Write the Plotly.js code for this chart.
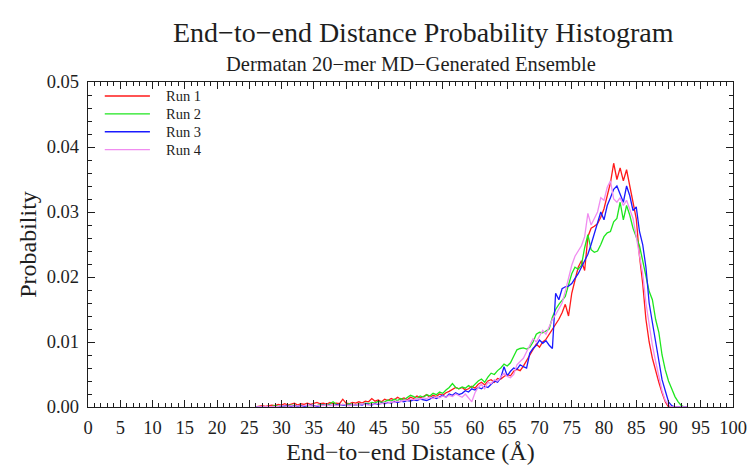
<!DOCTYPE html>
<html>
<head>
<meta charset="utf-8">
<script src="https://cdn.plot.ly/plotly-3.0.1.min.js"></script>
<style>html,body{margin:0;padding:0;background:#fff;}#chart{width:748px;height:465px;}</style>
</head>
<body>
<div id="chart"></div>
<script>
// Bin centres (Å)
const distance = [26,26.5,27,27.5,28,28.5,29,29.5,30,30.5,31,31.5,32,32.5,33,33.5,34,34.5,35,35.5,36,36.5,37,37.5,38,38.5,39,39.5,40,40.5,41,41.5,42,42.5,43,43.5,44,44.5,45,45.5,46,46.5,47,47.5,48,48.5,49,49.5,50,50.5,51,51.5,52,52.5,53,53.5,54,54.5,55,55.5,56,56.5,57,57.5,58,58.5,59,59.5,60,60.5,61,61.5,62,62.5,63,63.5,64,64.5,65,65.5,66,66.5,67,67.5,68,68.5,69,69.5,70,70.5,71,71.5,72,72.5,73,73.5,74,74.5,75,75.5,76,76.5,77,77.5,78,78.5,79,79.5,80,80.5,81,81.5,82,82.5,83,83.5,84,84.5,85,85.5,86,86.5,87,87.5,88,88.5,89,89.5,90,90.5,91,91.5,92,92.5,93];

const run1 = [0,0.0001,0.0002,0.0001,0.0002,0.0003,0.0002,0.0004,0.0003,0.0005,0.0003,0.0004,0.0006,0.0003,0.0005,0.0004,0.0006,0.0004,0.0005,0.0007,0.0005,0.0006,0.0004,0.0007,0.0005,0.0006,0.0005,0.0012,0.0006,0.0005,0.0007,0.0006,0.0008,0.0006,0.0009,0.0008,0.0013,0.0009,0.0011,0.0008,0.0012,0.0010,0.0013,0.0011,0.0015,0.0012,0.0014,0.0011,0.0015,0.0013,0.0017,0.0014,0.0016,0.0019,0.0015,0.0018,0.0016,0.0020,0.0018,0.0022,0.0024,0.0027,0.0030,0.0028,0.0030,0.0026,0.0028,0.0032,0.0029,0.0035,0.0038,0.0034,0.0040,0.0042,0.0038,0.0044,0.0043,0.0047,0.0050,0.0048,0.0055,0.0058,0.0056,0.0063,0.0072,0.0080,0.0088,0.0097,0.0092,0.0100,0.0104,0.0112,0.0118,0.0128,0.0135,0.0145,0.0158,0.0140,0.0175,0.0195,0.0215,0.0225,0.0210,0.0262,0.0275,0.0278,0.0282,0.0292,0.0305,0.0325,0.0345,0.0375,0.0350,0.0368,0.0348,0.0365,0.0340,0.0315,0.0290,0.0232,0.0190,0.0135,0.0100,0.0075,0.0055,0.0038,0.0022,0.0008,0,0,0,0,0,0,0];

const run2 = [0,0,0.0001,0,0.0001,0.0001,0.0002,0.0001,0.0002,0.0001,0.0002,0.0003,0.0002,0.0002,0.0003,0.0002,0.0003,0.0002,0.0003,0.0002,0.0004,0.0003,0.0002,0.0005,0.0008,0.0004,0.0003,0.0004,0.0003,0.0005,0.0004,0.0003,0.0005,0.0004,0.0006,0.0005,0.0007,0.0006,0.0009,0.0007,0.0008,0.0011,0.0009,0.0012,0.0010,0.0013,0.0011,0.0014,0.0018,0.0016,0.0013,0.0017,0.0015,0.0019,0.0017,0.0021,0.0019,0.0023,0.0021,0.0026,0.0030,0.0036,0.0030,0.0028,0.0031,0.0029,0.0033,0.0030,0.0035,0.0040,0.0043,0.0038,0.0046,0.0052,0.0050,0.0056,0.0060,0.0066,0.0063,0.0068,0.0078,0.0088,0.0090,0.0091,0.0089,0.0092,0.0100,0.0112,0.0115,0.0114,0.0117,0.0120,0.0138,0.0150,0.0158,0.0165,0.0170,0.0188,0.0205,0.0215,0.0212,0.0218,0.0245,0.0265,0.0242,0.0238,0.0240,0.0250,0.0262,0.0268,0.0270,0.0285,0.0290,0.0315,0.0288,0.0310,0.0295,0.0275,0.0262,0.0248,0.0225,0.0200,0.0178,0.0165,0.0135,0.0115,0.0080,0.0057,0.0040,0.0028,0.0016,0.0008,0.0002,0,0];

const run3 = [0,0,0,0.0001,0,0.0001,0.0001,0,0.0001,0.0002,0.0001,0.0001,0.0002,0.0001,0.0002,0.0001,0.0002,0.0003,0.0002,0.0001,0.0002,0.0003,0.0002,0.0003,0.0002,0.0003,0.0004,0.0003,0.0002,0.0003,0.0004,0.0003,0.0004,0.0003,0.0005,0.0004,0.0003,0.0005,0.0004,0.0006,0.0005,0.0007,0.0006,0.0008,0.0007,0.0009,0.0008,0.0010,0.0009,0.0011,0.0010,0.0012,0.0011,0.0010,0.0012,0.0015,0.0013,0.0016,0.0018,0.0015,0.0020,0.0018,0.0022,0.0019,0.0021,0.0025,0.0023,0.0028,0.0026,0.0030,0.0028,0.0032,0.0030,0.0035,0.0040,0.0038,0.0045,0.0062,0.0048,0.0055,0.0060,0.0058,0.0065,0.0062,0.0060,0.0083,0.0090,0.0095,0.0103,0.0098,0.0102,0.0095,0.0090,0.0175,0.0165,0.0182,0.0185,0.0186,0.0190,0.0198,0.0205,0.0215,0.0225,0.0235,0.0250,0.0268,0.0282,0.0300,0.0288,0.0310,0.0322,0.0335,0.0340,0.0328,0.0315,0.0340,0.0325,0.0302,0.0308,0.0270,0.0250,0.0215,0.0160,0.0130,0.0100,0.0070,0.0042,0.0025,0.0008,0.0002,0,0,0,0,0];

const run4 = [0,0,0.0001,0,0.0001,0,0.0001,0.0001,0.0002,0.0001,0.0001,0.0002,0.0001,0.0002,0.0001,0.0002,0.0003,0.0002,0.0001,0.0002,0.0003,0.0002,0.0003,0.0002,0.0003,0.0002,0.0003,0.0004,0.0003,0.0002,0.0004,0.0003,0.0004,0.0005,0.0004,0.0003,0.0005,0.0004,0.0006,0.0005,0.0007,0.0006,0.0008,0.0007,0.0009,0.0008,0.0011,0.0010,0.0012,0.0011,0.0013,0.0012,0.0014,0.0013,0.0015,0.0013,0.0016,0.0014,0.0017,0.0015,0.0018,0.0016,0.0020,0.0018,0.0015,0.0020,0.0014,0.0008,0.0022,0.0030,0.0035,0.0028,0.0038,0.0036,0.0042,0.0040,0.0046,0.0052,0.0047,0.0045,0.0050,0.0065,0.0070,0.0075,0.0085,0.0095,0.0105,0.0100,0.0110,0.0118,0.0112,0.0125,0.0135,0.0142,0.0150,0.0160,0.0178,0.0200,0.0218,0.0232,0.0240,0.0248,0.0262,0.0298,0.0280,0.0290,0.0300,0.0322,0.0318,0.0338,0.0348,0.0320,0.0315,0.0322,0.0310,0.0318,0.0305,0.0290,0.0262,0.0235,0.0205,0.0160,0.0125,0.0095,0.0070,0.0045,0.0025,0.0010,0.0003,0,0,0,0,0,0];

const seriesNames = ['Run 1','Run 2','Run 3','Run 4'];
const seriesColors = ['#ff1a1a','#1ee61e','#1a1aff','#f08cf0'];
const seriesValues = [run1, run2, run3, run4];

const xTicks = [0,5,10,15,20,25,30,35,40,45,50,55,60,65,70,75,80,85,90,95,100];
const yTicks = [0,0.01,0.02,0.03,0.04,0.05];

const FONT = 'Liberation Serif, Times New Roman, serif';
const INK = '#1e1e1e';

const traces = seriesValues.map((v, i) => ({
  type: 'scatter', mode: 'lines', name: seriesNames[i],
  x: distance, y: v, showlegend: false,
  line: {color: seriesColors[i], width: 1.3}
}));

// Hand-made legend (layout decoration): sample line + label per run
const legendRowsY = [0.957, 0.902, 0.847, 0.792];
const legendShapes = seriesNames.map((n, i) => ({
  type: 'line', xref: 'paper', yref: 'paper', x0: 0.026, x1: 0.096,
  y0: legendRowsY[i], y1: legendRowsY[i], line: {color: seriesColors[i], width: 1.3}
}));
const legendLabels = seriesNames.map((n, i) => ({
  text: n, xref: 'paper', yref: 'paper', x: 0.118, y: legendRowsY[i],
  xanchor: 'left', yanchor: 'middle', showarrow: false,
  font: {family: FONT, size: 14.5, color: INK}
}));

const axisCommon = {
  showline: true, linecolor: INK, linewidth: 1.2, mirror: 'allticks',
  ticks: 'inside', ticklen: 7, tickwidth: 1, tickcolor: INK,
  showgrid: false, zeroline: false, ticklabelstandoff: 4,
  tickfont: {family: FONT, size: 18.5, color: INK}
};

const layout = {
  width: 748, height: 465,
  margin: {l: 88, r: 15, t: 82, b: 58},
  paper_bgcolor: '#fff', plot_bgcolor: '#fff',
  font: {family: FONT, color: INK},
  showlegend: false,
  xaxis: Object.assign({}, axisCommon, {
    range: [0, 100], tickvals: xTicks, ticktext: xTicks.map(String),
    minor: {dtick: 1, ticks: 'inside', ticklen: 4, tickcolor: INK, showgrid: false},
    title: {text: 'End−to−end Distance (Å)', font: {family: FONT, size: 24, color: INK}, standoff: 6}
  }),
  yaxis: Object.assign({}, axisCommon, {
    range: [0, 0.05], tickvals: yTicks, ticktext: yTicks.map(t => t.toFixed(2)),
    minor: {dtick: 0.002, ticks: 'inside', ticklen: 4, tickcolor: INK, showgrid: false},
    title: {text: 'Probability', font: {family: FONT, size: 24, color: INK}, standoff: 3}
  }),
  shapes: legendShapes,
  annotations: [
    {text: 'End−to−end Distance Probability Histogram', xref: 'paper', yref: 'paper',
     x: 0.52, y: 1.1523, xanchor: 'center', yanchor: 'middle', showarrow: false,
     font: {family: FONT, size: 28, color: INK}},
    {text: 'Dermatan 20−mer MD−Generated Ensemble', xref: 'paper', yref: 'paper',
     x: 0.50, y: 1.0554, xanchor: 'center', yanchor: 'middle', showarrow: false,
     font: {family: FONT, size: 20.5, color: INK}}
  ].concat(legendLabels)
};

Plotly.newPlot('chart', traces, layout, {displayModeBar: false, staticPlot: true});
</script>
</body>
</html>
